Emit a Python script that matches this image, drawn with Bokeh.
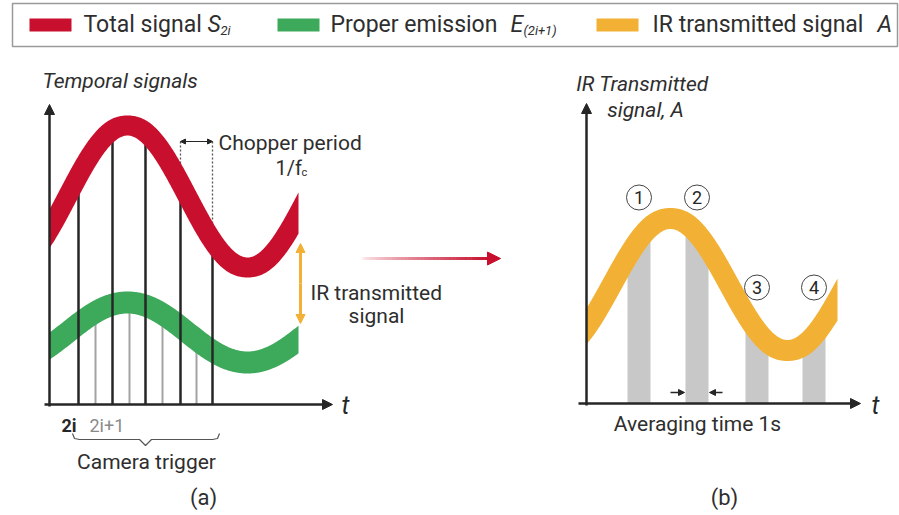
import numpy as np
from bokeh.plotting import figure
from bokeh.models import Range1d, Arrow, NormalHead
from bokeh.core.properties import value
from bokeh.embed import file_html
from bokeh.resources import INLINE

W, H = 899, 515
FONT = "Roboto"

RED = "#C8102E"
GREEN = "#3DA95A"
ORANGE = "#F2B134"
DARK = "#262626"
TXT = "#2E2E2E"
GRAY_LINE = "#A3A3A3"
BAR = "#C8C8C8"

# ---- legend entries ----
legend_labels = ["Total signal", "Proper emission", "IR transmitted signal"]
legend_symbols = ["S", "E", "A"]
legend_subs = ["2i", "(2i+1)", ""]
legend_colors = [RED, GREEN, ORANGE]

# ---- panel (a): temporal signals (mean level, amplitude, peak time, period, band width) ----
total_signal = dict(mean=196, amp=71, peak=127, period=240, width=20)
proper_emission = dict(mean=332, amp=30, peak=127, period=240, width=22)
t_a = (49, 298)          # time span of the drawn signals

# camera trigger times: even frames (2i) and odd frames (2i+1)
even_frames = [78, 112, 145, 180, 212]
odd_frames = [95, 129, 162, 196]
chopper_frames = [180, 212]

# ---- panel (b): IR transmitted signal and averaging windows ----
ir_signal = dict(mean=284, amp=66, peak=670, period=234, width=21)
t_b = (586, 837)
avg_start = [627, 685, 745, 802]
avg_len = 23
avg_ids = ["1", "2", "3", "4"]
avg_id_level = [197, 197, 287, 287]


def centre(x, s):
    return s["mean"] - s["amp"] * np.cos(2 * np.pi * (x - s["peak"]) / s["period"])


def band(x, s):
    c = centre(x, s)
    slope = s["amp"] * 2 * np.pi / s["period"] * np.sin(2 * np.pi * (x - s["peak"]) / s["period"])
    half = s["width"] / 2 * np.sqrt(1 + slope ** 2)
    return c - half, c + half


p = figure(width=W, height=H, output_backend="svg", toolbar_location=None,
           x_range=Range1d(0, W), y_range=Range1d(H, 0),
           x_axis_location=None, y_axis_location=None, min_border=0)
p.grid.visible = False
p.outline_line_color = None
p.background_fill_color = "white"


def txt(x, y, s, size="21px", color=TXT, align="left", style="normal", base="middle"):
    p.text(x=[x], y=[y], text=[s], text_font=value(FONT), text_font_size=value(size),
           text_color=color, text_align=align, text_baseline=base, text_font_style=style)


def arrow(x0, y0, x1, y1, color=DARK, lw=2.5, head=10, both=False):
    hd = lambda: NormalHead(size=head, fill_color=color, line_color=color, line_width=1)
    p.add_layout(Arrow(end=hd(), start=hd() if both else None,
                       x_start=x0, y_start=y0, x_end=x1, y_end=y1,
                       line_color=color, line_width=lw))


# ---- legend ----
p.quad(left=[12], right=[897], top=[3], bottom=[46], fill_color=None,
       line_color="#9A9A9A", line_width=1.5)
sw_x = [29, 277, 596]
lab_x = [83, 330, 652]
sym_x = [207, 510, 877]
for i in range(3):
    p.quad(left=[sw_x[i]], right=[sw_x[i] + 42], top=[18], bottom=[31],
           fill_color=legend_colors[i], line_color=None)
    txt(lab_x[i], 24, legend_labels[i], size="23px")
    txt(sym_x[i], 24, legend_symbols[i], size="23px", style="italic")
    if legend_subs[i]:
        txt(sym_x[i] + 13, 30, legend_subs[i], size="13px", style="italic")

# ---- panel (a) ----
xa = np.linspace(t_a[0], t_a[1], 400)
axis_y = 404

# odd-frame triggers end at the proper-emission band
for x in odd_frames:
    p.line([x, x], [axis_y, centre(x, proper_emission)], line_color=GRAY_LINE, line_width=2)

g1, g2 = band(xa, proper_emission)
p.varea(x=xa, y1=g1, y2=g2, fill_color=GREEN)

# even-frame triggers reach the total-signal band
for x in even_frames:
    p.line([x, x], [axis_y, centre(x, total_signal)], line_color=DARK, line_width=2.5)

for x in chopper_frames:
    p.line([x, x], [141, centre(x, total_signal)], line_color="#555555",
           line_width=1.3, line_dash="2 2")

r1, r2 = band(xa, total_signal)
p.varea(x=xa, y1=r1, y2=r2, fill_color=RED)

arrow(49, axis_y + 2, 49, 104)
arrow(44, axis_y, 332, axis_y)
txt(341, 405, "t", size="25px", style="italic", color=DARK)
txt(42, 80, "Temporal signals", style="italic")

# chopper period
arrow(chopper_frames[0], 141, chopper_frames[1], 141, lw=1.2, head=5, both=True)
txt(218, 142, "Chopper period")
txt(275, 167, "1/f", size="20px")
txt(301, 172, "c", size="11px")

# transmitted amplitude
arrow(300, 283, 300, 243, color=ORANGE, lw=3, head=9)
arrow(300, 283, 300, 323, color=ORANGE, lw=3, head=9)
txt(310, 292, "IR transmitted")
txt(376, 315, "signal", align="center")

# camera trigger labels
txt(61, 425, "2i", size="18px", style="bold", color=DARK)
txt(89, 425, "2i+1", size="18px", color="#8A8A8A")
bx = [72, 74, 79, 139, 145, 151, 212, 217, 219]
by = [433, 438, 439, 439, 445, 439, 439, 438, 433]
p.line(bx, by, line_color="#555555", line_width=1.2)
txt(146, 461, "Camera trigger", align="center")
txt(203, 497, "(a)", size="22px", align="center")

# ---- arrow between panels (fading in towards the head) ----
n = 40
xs = np.linspace(362, 490, n + 1)
c0 = np.array([252, 232, 235])
c1 = np.array([200, 16, 46])
cols = []
for k in range(n):
    f = (k / (n - 1)) ** 0.8
    c = (c0 + (c1 - c0) * f).astype(int)
    cols.append("#%02x%02x%02x" % tuple(c))
p.multi_line(xs=[[xs[k], xs[k + 1] + 0.5] for k in range(n)], ys=[[258, 258]] * n,
             line_color=cols, line_width=3)
arrow(488, 258, 500, 258, color=RED, lw=3, head=13)

# ---- panel (b) ----
xb = np.linspace(t_b[0], t_b[1], 400)
axis_yb = 403
for x0 in avg_start:
    xx = np.linspace(x0, x0 + avg_len, 30)
    p.varea(x=xx, y1=np.full_like(xx, axis_yb), y2=centre(xx, ir_signal), fill_color=BAR)

o1, o2 = band(xb, ir_signal)
p.varea(x=xb, y1=o1, y2=o2, fill_color=ORANGE)

arrow(586, axis_yb + 2, 586, 103)
arrow(578, axis_yb, 860, axis_yb)
txt(871, 405, "t", size="25px", style="italic", color=DARK)
txt(642, 83, "IR Transmitted", style="italic", align="center")
txt(645, 109, "signal, A", style="italic", align="center")

cx = [x0 + avg_len / 2 for x0 in avg_start]
p.scatter(x=cx, y=avg_id_level, size=25, marker="circle", fill_color="white",
          line_color="#444444", line_width=1)
p.text(x=cx, y=avg_id_level, text=avg_ids, text_font=value(FONT),
       text_font_size=value("18px"), text_color=DARK, text_align="center",
       text_baseline="middle")

arrow(670, 392, 684, 392, lw=1.5, head=6)
arrow(722, 392, 709, 392, lw=1.5, head=6)
txt(697, 423, "Averaging time 1s", align="center")
txt(724, 497, "(b)", size="22px", align="center")

open("out.html", "w").write(file_html(p, INLINE))
